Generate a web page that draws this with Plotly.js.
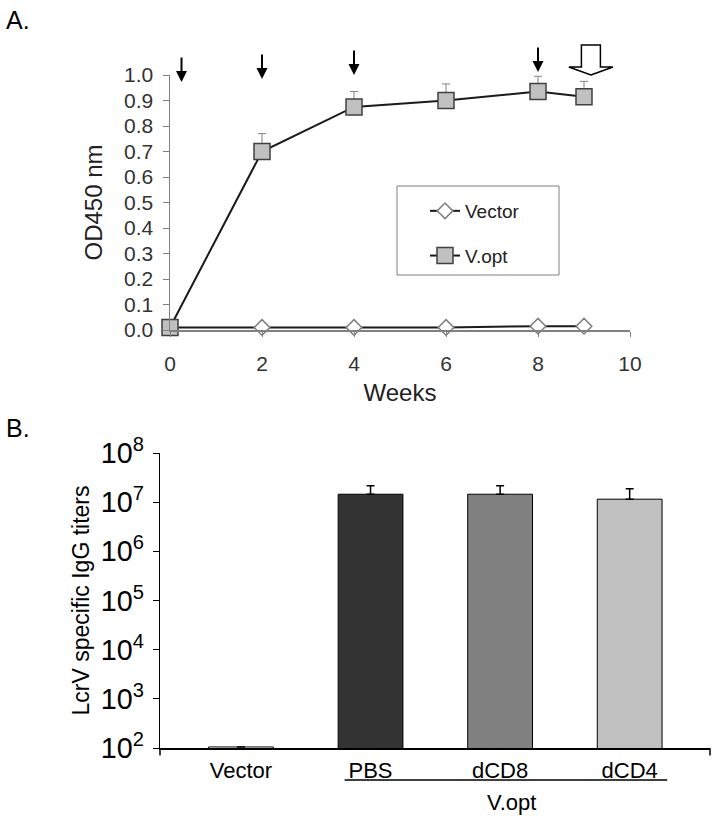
<!DOCTYPE html>
<html><head><meta charset="utf-8">
<script src="https://cdn.plot.ly/plotly-3.0.1.min.js"></script>
<style>html,body{margin:0;padding:0;background:#fff}#chart{width:717px;height:822px}</style>
</head><body><div id="chart"></div>
<script>
// Panel A data
const weeks = [0, 2, 4, 6, 8, 9];
const vectorOD = [0.01, 0.01, 0.01, 0.01, 0.015, 0.015];
const voptOD = [0.01, 0.70, 0.875, 0.90, 0.935, 0.915];
const voptErr = [0, 0.07, 0.06, 0.065, 0.06, 0.06];
const boostWeeks = [0.25, 2, 4, 8];
const challengeWeek = 9.15;
// Panel B data
const groups = ['Vector', 'PBS', 'dCD8', 'dCD4'];
const titers = [105, 1.45e7, 1.45e7, 1.15e7];
const titerErr = [0, 0.7e7, 0.7e7, 0.72e7];

const FONT = 'Liberation Sans, Arial, sans-serif';
const barColors = ['#ffffff', '#333333', '#808080', '#c0c0c0'];
const H = 822, W = 717;
const px = v => v / W, py = v => (H - v) / H;
// arrow tip / tail heights (page pixels) for the boost arrows
const arrowTipPx = [82, 79, 75, 72];

const traces = [
  {
    x: weeks, y: vectorOD, type: 'scatter', mode: 'lines+markers', name: 'Vector',
    legendgroup: 'a', xaxis: 'x', yaxis: 'y', cliponaxis: false,
    line: {color: '#1a1a1a', width: 2},
    marker: {symbol: 'diamond', size: 12, color: '#ffffff', line: {color: '#808080', width: 1.5}}
  },
  {
    x: weeks, y: voptOD, type: 'scatter', mode: 'lines+markers', name: 'V.opt',
    legendgroup: 'b', xaxis: 'x', yaxis: 'y', cliponaxis: false,
    line: {color: '#1a1a1a', width: 2},
    marker: {symbol: 'square', size: 16, color: '#c0c0c0', line: {color: '#404040', width: 1.5}},
    error_y: {type: 'data', symmetric: false, array: voptErr, arrayminus: voptErr.map(() => 0),
      color: '#808080', thickness: 1, width: 4}
  },
  {
    x: groups, y: titers, type: 'bar', xaxis: 'x2', yaxis: 'y2', showlegend: false, width: 0.5,
    marker: {color: barColors, line: {color: '#000000', width: 1}},
    error_y: {type: 'data', symmetric: false, array: titerErr, arrayminus: titerErr.map(() => 0),
      color: '#000000', thickness: 1.5, width: 4}
  }
];

const annotations = boostWeeks.map((w, i) => ({
  x: w, y: py(arrowTipPx[i]), xref: 'x', yref: 'paper', text: '', showarrow: true,
  arrowhead: 2, arrowsize: 1.1, arrowwidth: 2, arrowcolor: '#000', ax: 0, ay: -26
}));
annotations.push(
  {text: 'A.', xref: 'paper', yref: 'paper', x: px(4), y: py(20), xanchor: 'left', yanchor: 'middle',
   showarrow: false, font: {family: FONT, size: 25, color: '#000'}},
  {text: 'B.', xref: 'paper', yref: 'paper', x: px(4), y: py(428), xanchor: 'left', yanchor: 'middle',
   showarrow: false, font: {family: FONT, size: 25, color: '#000'}},
  {text: 'V.opt', xref: 'x2', yref: 'paper', x: 2.09, y: py(802), xanchor: 'center', yanchor: 'middle',
   showarrow: false, font: {family: FONT, size: 22, color: '#000'}}
);

// hollow challenge arrow outline (page pixel offsets around its tip)
const hollowOutline = [[0, 0], [22, -8], [9.5, -8], [9.5, -30], [-9.5, -30], [-9.5, -8], [-22, -8]];
const tipX = 170 + (challengeWeek / 10) * 460, tipY = 75;
const hollowPath = 'M' + hollowOutline.map(p => px(tipX + p[0]).toFixed(5) + ',' + py(tipY + p[1]).toFixed(5)).join(' L') + ' Z';

const shapes = [
  {type: 'rect', xref: 'paper', yref: 'paper', x0: px(397), x1: px(559), y0: py(275), y1: py(186),
   line: {color: '#808080', width: 1}, fillcolor: 'rgba(0,0,0,0)'},
  {type: 'path', xref: 'paper', yref: 'paper', path: hollowPath,
   fillcolor: '#ffffff', line: {color: '#000000', width: 1.5}},
  {type: 'line', xref: 'x2', yref: 'paper', x0: 0.8, x1: 3.29, y0: py(780), y1: py(780),
   line: {color: '#000', width: 1.5}},
  {type: 'line', xref: 'x2 domain', yref: 'y2 domain', x0: 1, x1: 1, y0: 0, y1: -0.025,
   line: {color: '#000', width: 1.5}},
  {type: 'line', xref: 'x2 domain', yref: 'y2 domain', x0: 0, x1: 0, y0: 0, y1: -0.025,
   line: {color: '#000', width: 1.5}}
];

const layout = {
  width: W, height: H, margin: {l: 0, r: 0, t: 0, b: 0},
  paper_bgcolor: '#fff', plot_bgcolor: '#fff',
  font: {family: FONT, color: '#333'},
  showlegend: true,
  legend: {x: px(425), y: py(192), xanchor: 'left', yanchor: 'top', bgcolor: 'rgba(0,0,0,0)',
    borderwidth: 0, font: {family: FONT, size: 19, color: '#222'}, traceorder: 'grouped', tracegroupgap: 17},
  xaxis: {domain: [px(170), px(630)], range: [0, 10], dtick: 2, anchor: 'y',
    showline: true, linecolor: '#808080', linewidth: 1.5, ticks: 'outside', ticklen: 5, tickcolor: '#808080',
    showgrid: false, zeroline: false, tickfont: {family: FONT, size: 21, color: '#333'}, ticklabelstandoff: 9,
    title: {text: 'Weeks', font: {family: FONT, size: 24, color: '#222'}, standoff: 10}},
  yaxis: {domain: [py(330), py(75)], range: [0, 1], dtick: 0.1, tickformat: '.1f', anchor: 'x',
    showline: true, linecolor: '#808080', linewidth: 1.5, ticks: 'outside', ticklen: 6, tickcolor: '#808080',
    showgrid: false, zeroline: false, tickfont: {family: FONT, size: 21, color: '#333'}, ticklabelstandoff: 5,
    title: {text: 'OD450 nm', font: {family: FONT, size: 24, color: '#222'}, standoff: 14}},
  xaxis2: {domain: [px(160), px(710)], range: [-0.625, 3.62], type: 'category', anchor: 'y2',
    showline: true, linecolor: '#000', linewidth: 1.5, ticks: '', showgrid: false, zeroline: false,
    tickfont: {family: FONT, size: 22, color: '#000'}, ticklabelstandoff: 2},
  yaxis2: {domain: [py(748), py(453)], type: 'log', range: [2, 8], dtick: 1, exponentformat: 'power',
    anchor: 'x2', showline: true, linecolor: '#000', linewidth: 1.5, ticks: 'outside', ticklen: 6,
    tickcolor: '#000', showgrid: false, zeroline: false,
    tickfont: {family: FONT, size: 23, color: '#000'}, ticklabelstandoff: 4,
    title: {text: 'LcrV specific IgG titers', font: {family: FONT, size: 23, color: '#000'}, standoff: 4}},
  annotations: annotations,
  shapes: shapes
};

Plotly.newPlot('chart', traces, layout, {displayModeBar: false, staticPlot: true});
</script>
</body></html>
